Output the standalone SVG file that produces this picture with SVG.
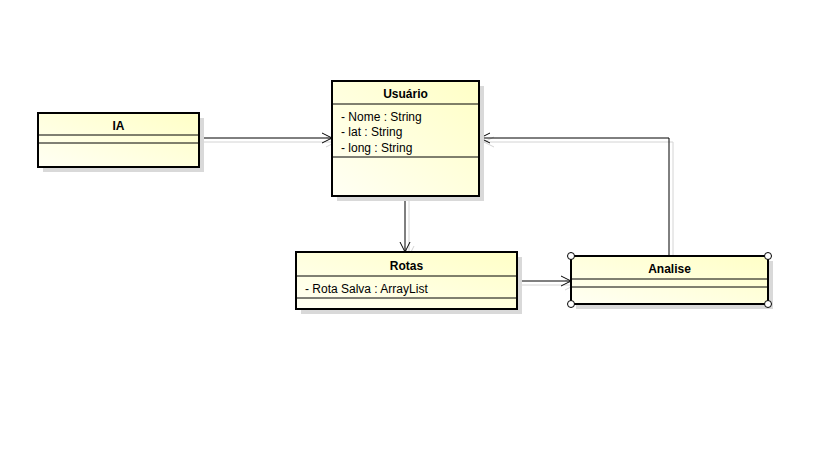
<svg xmlns="http://www.w3.org/2000/svg" width="819" height="460" viewBox="0 0 819 460">
<defs>
<linearGradient id="fill" x1="0" y1="1" x2="1" y2="0">
<stop offset="0" stop-color="#FFFFF4"/>
<stop offset="1" stop-color="#FFFFC6"/>
</linearGradient>
<marker id="open" viewBox="0 0 12 12" refX="11" refY="6" markerWidth="12" markerHeight="12" markerUnits="userSpaceOnUse" orient="auto">
<path d="M1,1 L11,6 L1,11" fill="none" stroke="#000" stroke-width="1"/>
</marker>
<marker id="openS" viewBox="0 0 12 12" refX="11" refY="6" markerWidth="12" markerHeight="12" markerUnits="userSpaceOnUse" orient="auto">
<path d="M1,1 L11,6 L1,11" fill="none" stroke="#d4d4d4" stroke-width="1"/>
</marker>
</defs>
<style>
.shadow{fill:#d9d9d9;stroke:none}
.box{fill:url(#fill);stroke:#000;stroke-width:2}
.sep{stroke:#000;stroke-width:1}
.title{font-family:"Liberation Sans",Arial,sans-serif;font-size:12px;font-weight:bold;text-anchor:middle}
.attr{font-family:"Liberation Sans",Arial,sans-serif;font-size:12px}
.line{fill:none;stroke:#000;stroke-width:1}
.sline{fill:none;stroke:#d4d4d4;stroke-width:1}
.handle{fill:#fff;stroke:#000;stroke-width:1}
</style>
<rect width="819" height="460" fill="#fff"/>

<g id="connectors">
<line class="sline" x1="199" y1="142" x2="336" y2="142" marker-end="url(#openS)"/>
<line class="line" x1="199" y1="138" x2="332" y2="138" marker-end="url(#open)"/>
<line class="sline" x1="409" y1="196" x2="409" y2="256" marker-end="url(#openS)"/>
<line class="line" x1="405" y1="196" x2="405" y2="252" marker-end="url(#open)"/>
<line class="sline" x1="517" y1="285" x2="575" y2="285" marker-end="url(#openS)"/>
<line class="line" x1="517" y1="281" x2="571" y2="281" marker-end="url(#open)"/>
<polyline class="sline" points="673,256 673,142 484,142" marker-end="url(#openS)"/>
<polyline class="line" points="669,256 669,138 480,138" marker-end="url(#open)"/>
</g>

<g id="IA">
<rect class="shadow" x="43" y="118" width="161" height="54"/>
<rect class="box" x="38" y="113" width="161" height="54"/>
<line class="sep" x1="38" y1="135" x2="199" y2="135"/>
<line class="sep" x1="38" y1="143" x2="199" y2="143"/>
<text class="title" x="118.5" y="130">IA</text>
</g>

<g id="Usuario">
<rect class="shadow" x="337" y="86" width="147" height="115"/>
<rect class="box" x="332" y="81" width="147" height="115"/>
<line class="sep" x1="332" y1="104" x2="479" y2="104"/>
<line class="sep" x1="332" y1="157" x2="479" y2="157"/>
<text class="title" x="405.5" y="98">Usuário</text>
<text class="attr" x="341" y="121">- Nome : String</text>
<text class="attr" x="341" y="136">- lat : String</text>
<text class="attr" x="341" y="152">- long : String</text>
</g>

<g id="Rotas">
<rect class="shadow" x="301" y="257" width="221" height="57"/>
<rect class="box" x="296" y="252" width="221" height="57"/>
<line class="sep" x1="296" y1="276" x2="517" y2="276"/>
<line class="sep" x1="296" y1="298" x2="517" y2="298"/>
<text class="title" x="406.5" y="270">Rotas</text>
<text class="attr" x="305" y="293">- Rota Salva : ArrayList</text>
</g>

<g id="Analise">
<rect class="shadow" x="576" y="261" width="197" height="48"/>
<rect class="box" x="571" y="256" width="197" height="48"/>
<line class="sep" x1="571" y1="279" x2="768" y2="279"/>
<line class="sep" x1="571" y1="287" x2="768" y2="287"/>
<text class="title" x="669.5" y="273">Analise</text>
<circle class="handle" cx="571" cy="256" r="3.5"/>
<circle class="handle" cx="768" cy="256" r="3.5"/>
<circle class="handle" cx="571" cy="304" r="3.5"/>
<circle class="handle" cx="768" cy="304" r="3.5"/>
</g>
</svg>
